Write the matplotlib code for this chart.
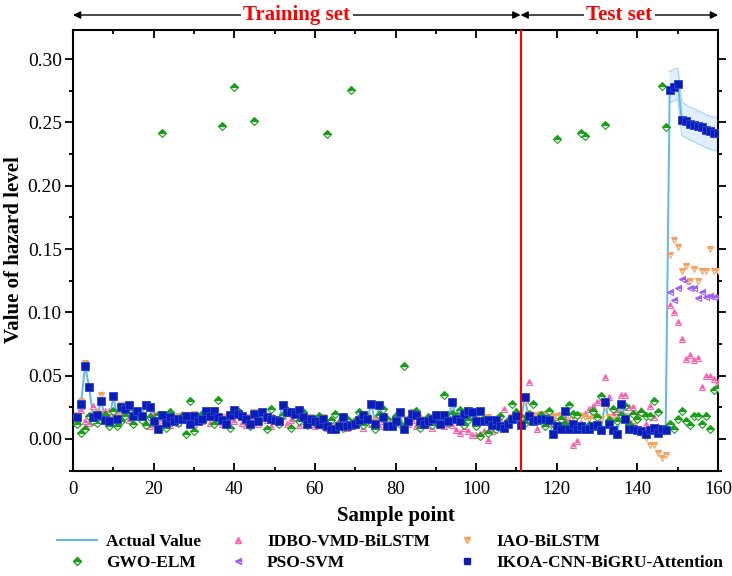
import matplotlib
matplotlib.use("Agg")
import matplotlib.pyplot as plt
import matplotlib.transforms as mtransforms
from matplotlib.ticker import MultipleLocator, FormatStrFormatter
from matplotlib.lines import Line2D

plt.rcParams['font.family'] = ['Liberation Serif', 'DejaVu Serif']

samples = list(range(1, 161))
split_at = 111

actual = [
    0.017, 0.028, 0.058, 0.041, 0.017, 0.019, 0.030, 0.015, 0.014, 0.034,
    0.016, 0.025, 0.024, 0.027, 0.018, 0.022, 0.018, 0.027, 0.025, 0.014,
    0.008, 0.019, 0.013, 0.017, 0.014, 0.016, 0.016, 0.018, 0.012, 0.018,
    0.014, 0.016, 0.022, 0.018, 0.022, 0.017, 0.015, 0.012, 0.019, 0.023,
    0.020, 0.018, 0.016, 0.012, 0.020, 0.014, 0.021, 0.017, 0.016, 0.015,
    0.014, 0.027, 0.021, 0.021, 0.020, 0.023, 0.017, 0.012, 0.016, 0.014,
    0.012, 0.016, 0.010, 0.008, 0.008, 0.010, 0.017, 0.010, 0.011, 0.012,
    0.015, 0.019, 0.016, 0.028, 0.012, 0.027, 0.017, 0.010, 0.010, 0.014,
    0.021, 0.008, 0.014, 0.020, 0.019, 0.014, 0.012, 0.014, 0.016, 0.019,
    0.012, 0.019, 0.014, 0.029, 0.016, 0.014, 0.020, 0.022, 0.021, 0.014,
    0.022, 0.014, 0.015, 0.011, 0.015, 0.010, 0.009, 0.012, 0.016, 0.018,
    0.011, 0.033, 0.018, 0.014, 0.015, 0.016, 0.016, 0.015, 0.004, 0.010,
    0.008, 0.022, 0.008, 0.012, 0.008, 0.010, 0.008, 0.008, 0.010, 0.011,
    0.007, 0.029, 0.012, 0.007, 0.004, 0.028, 0.016, 0.008, 0.008, 0.007,
    0.006, 0.004, 0.007, 0.009, 0.005, 0.008, 0.007, 0.277, 0.279, 0.281,
    0.252, 0.251, 0.249, 0.248, 0.247, 0.246, 0.244, 0.243, 0.242, 0.242,
]

gwo_elm = [
    0.012, 0.005, 0.008, 0.018, 0.014, 0.013, 0.015, 0.019, 0.010, 0.022,
    0.010, 0.014, 0.018, 0.023, 0.012, 0.020, 0.015, 0.011, 0.017, 0.013,
    0.019, 0.242, 0.009, 0.021, 0.016, 0.013, 0.018, 0.004, 0.030, 0.006,
    0.015, 0.020, 0.017, 0.021, 0.012, 0.031, 0.247, 0.013, 0.009, 0.278,
    0.022, 0.018, 0.014, 0.010, 0.251, 0.016, 0.019, 0.008, 0.024, 0.015,
    0.012, 0.019, 0.023, 0.009, 0.017, 0.014, 0.021, 0.011, 0.016, 0.013,
    0.018, 0.010, 0.241, 0.015, 0.020, 0.012, 0.009, 0.016, 0.276, 0.014,
    0.021, 0.011, 0.017, 0.013, 0.008, 0.019, 0.024, 0.016, 0.010, 0.018,
    0.012, 0.058, 0.015, 0.018, 0.022, 0.009, 0.014, 0.017, 0.011, 0.019,
    0.016, 0.035, 0.013, 0.020, 0.018, 0.023, 0.011, 0.015, 0.019, 0.010,
    0.002, 0.016, 0.005, 0.012, 0.008, 0.018, 0.011, 0.014, 0.028, 0.021,
    0.017, 0.013, 0.020, 0.028, 0.015, 0.019, 0.010, 0.022, 0.013, 0.237,
    0.016, 0.012, 0.027, 0.020, 0.019, 0.242, 0.239, 0.011, 0.022, 0.017,
    0.034, 0.248, 0.015, 0.024, 0.014, 0.019, 0.026, 0.012, 0.020, 0.016,
    0.021, 0.018, 0.018, 0.030, 0.021, 0.279, 0.246, 0.012, 0.008, 0.016,
    0.022, 0.014, 0.011, 0.018, 0.018, 0.012, 0.018, 0.008, 0.039, 0.040,
]

idbo_vmd_bilstm = [
    0.013, 0.023, 0.014, 0.013, 0.026, 0.020, 0.020, 0.022, 0.022, 0.018,
    0.020, 0.017, 0.021, 0.015, 0.019, 0.020, 0.016, 0.013, 0.010, 0.020,
    0.012, 0.015, 0.018, 0.011, 0.016, 0.013, 0.020, 0.015, 0.017, 0.012,
    0.016, 0.014, 0.019, 0.013, 0.017, 0.015, 0.012, 0.018, 0.016, 0.014,
    0.019, 0.013, 0.011, 0.016, 0.014, 0.012, 0.017, 0.015, 0.010, 0.016,
    0.013, 0.018, 0.012, 0.015, 0.017, 0.011, 0.014, 0.016, 0.012, 0.010,
    0.011, 0.014, 0.009, 0.012, 0.010, 0.015, 0.013, 0.009, 0.012, 0.011,
    0.013, 0.009, 0.018, 0.012, 0.016, 0.010, 0.014, 0.011, 0.015, 0.019,
    0.013, 0.010, 0.012, 0.015, 0.010, 0.018, 0.013, 0.011, 0.009, 0.014,
    0.012, 0.010, 0.016, 0.011, 0.007, 0.005, 0.009, 0.006, 0.003, 0.003,
    0.004, 0.006, -0.001, 0.006, 0.010, 0.016, 0.024, 0.012, 0.018, 0.020,
    0.016, 0.018, 0.045, 0.015, 0.008, 0.020, 0.018, 0.013, 0.012, 0.017,
    0.010, 0.016, 0.014, -0.005, -0.002, 0.013, 0.020, 0.024, 0.026, 0.029,
    0.031, 0.049, 0.033, 0.020, 0.022, 0.035, 0.035, 0.025, 0.025, 0.020,
    0.023, 0.012, 0.026, 0.017, 0.010, 0.008, 0.006, 0.106, 0.100, 0.092,
    0.079, 0.063, 0.066, 0.062, 0.064, 0.041, 0.050, 0.050, 0.047, 0.045,
]

pso_svm = [
    0.016, 0.026, 0.056, 0.040, 0.016, 0.018, 0.029, 0.015, 0.014, 0.033,
    0.016, 0.024, 0.023, 0.026, 0.018, 0.021, 0.018, 0.026, 0.024, 0.014,
    0.009, 0.018, 0.013, 0.017, 0.014, 0.016, 0.015, 0.017, 0.012, 0.017,
    0.014, 0.016, 0.021, 0.017, 0.021, 0.016, 0.015, 0.012, 0.018, 0.022,
    0.019, 0.017, 0.016, 0.012, 0.019, 0.014, 0.020, 0.017, 0.016, 0.015,
    0.014, 0.026, 0.020, 0.020, 0.019, 0.022, 0.017, 0.012, 0.016, 0.014,
    0.012, 0.016, 0.010, 0.009, 0.009, 0.010, 0.016, 0.010, 0.011, 0.012,
    0.015, 0.018, 0.016, 0.027, 0.012, 0.026, 0.017, 0.010, 0.010, 0.014,
    0.020, 0.009, 0.014, 0.019, 0.018, 0.014, 0.012, 0.014, 0.016, 0.018,
    0.012, 0.018, 0.014, 0.028, 0.016, 0.014, 0.019, 0.021, 0.020, 0.014,
    0.021, 0.014, 0.015, 0.011, 0.015, 0.010, 0.009, 0.012, 0.016, 0.017,
    0.011, 0.031, 0.017, 0.014, 0.015, 0.016, 0.016, 0.015, 0.005, 0.010,
    0.008, 0.021, 0.009, 0.012, 0.008, 0.010, 0.009, 0.008, 0.010, 0.011,
    0.008, 0.027, 0.012, 0.008, 0.005, 0.026, 0.016, 0.008, 0.008, 0.007,
    0.006, 0.005, 0.007, 0.009, 0.006, 0.008, 0.007, 0.116, 0.110, 0.119,
    0.126, 0.125, 0.119, 0.119, 0.111, 0.116, 0.112, 0.113, 0.112, 0.112,
]

iao_bilstm = [
    0.019, 0.030, 0.060, 0.041, 0.019, 0.021, 0.035, 0.017, 0.016, 0.032,
    0.018, 0.027, 0.025, 0.028, 0.020, 0.023, 0.019, 0.028, 0.025, 0.016,
    0.010, 0.020, 0.015, 0.018, 0.016, 0.018, 0.017, 0.019, 0.014, 0.020,
    0.016, 0.018, 0.023, 0.019, 0.023, 0.018, 0.017, 0.014, 0.020, 0.024,
    0.021, 0.019, 0.017, 0.014, 0.021, 0.016, 0.022, 0.018, 0.017, 0.016,
    0.016, 0.027, 0.022, 0.022, 0.021, 0.024, 0.018, 0.014, 0.017, 0.016,
    0.014, 0.017, 0.012, 0.010, 0.010, 0.012, 0.018, 0.012, 0.013, 0.014,
    0.016, 0.020, 0.018, 0.028, 0.014, 0.027, 0.018, 0.012, 0.012, 0.016,
    0.021, 0.010, 0.016, 0.021, 0.020, 0.016, 0.014, 0.016, 0.017, 0.020,
    0.014, 0.020, 0.016, 0.029, 0.018, 0.016, 0.021, 0.023, 0.022, 0.016,
    0.022, 0.016, 0.017, 0.013, 0.016, 0.012, 0.011, 0.014, 0.017, 0.019,
    0.013, 0.030, 0.020, 0.018, 0.019, 0.020, 0.020, 0.019, 0.018, 0.018,
    0.019, 0.021, 0.018, 0.017, 0.019, 0.018, 0.017, 0.016, 0.018, 0.017,
    0.016, 0.025, 0.017, 0.015, 0.014, 0.026, 0.018, 0.013, 0.010, 0.007,
    0.004, 0.001, -0.005, -0.005, -0.011, -0.015, -0.013, 0.145, 0.157, 0.152,
    0.133, 0.137, 0.125, 0.134, 0.125, 0.133, 0.133, 0.150, 0.133, 0.133,
]

ikoa_cnn_bigru_att = [
    0.017, 0.028, 0.058, 0.041, 0.017, 0.019, 0.030, 0.015, 0.014, 0.034,
    0.016, 0.025, 0.024, 0.027, 0.018, 0.022, 0.018, 0.027, 0.025, 0.014,
    0.008, 0.019, 0.013, 0.017, 0.014, 0.016, 0.016, 0.018, 0.012, 0.018,
    0.014, 0.016, 0.022, 0.018, 0.022, 0.017, 0.015, 0.012, 0.019, 0.023,
    0.020, 0.018, 0.016, 0.012, 0.020, 0.014, 0.021, 0.017, 0.016, 0.015,
    0.014, 0.027, 0.021, 0.021, 0.020, 0.023, 0.017, 0.012, 0.016, 0.014,
    0.012, 0.016, 0.010, 0.008, 0.008, 0.010, 0.017, 0.010, 0.011, 0.012,
    0.015, 0.019, 0.016, 0.028, 0.012, 0.027, 0.017, 0.010, 0.010, 0.014,
    0.021, 0.008, 0.014, 0.020, 0.019, 0.014, 0.012, 0.014, 0.016, 0.019,
    0.012, 0.019, 0.014, 0.029, 0.016, 0.014, 0.020, 0.022, 0.021, 0.014,
    0.022, 0.014, 0.015, 0.011, 0.015, 0.010, 0.009, 0.012, 0.016, 0.018,
    0.011, 0.033, 0.018, 0.014, 0.015, 0.016, 0.016, 0.015, 0.004, 0.010,
    0.008, 0.022, 0.008, 0.012, 0.008, 0.010, 0.008, 0.008, 0.010, 0.011,
    0.007, 0.029, 0.012, 0.007, 0.004, 0.028, 0.016, 0.008, 0.008, 0.007,
    0.006, 0.004, 0.007, 0.009, 0.005, 0.008, 0.007, 0.276, 0.278, 0.280,
    0.252, 0.251, 0.249, 0.248, 0.247, 0.246, 0.244, 0.243, 0.242, 0.242,
]

# confidence band of the proposed model on the last test points
band_x = [148, 149, 150, 151, 152, 153, 154, 155, 156, 157, 158, 159, 160]
band_upper = [0.290, 0.292, 0.293, 0.266, 0.264, 0.262, 0.261, 0.259,
              0.258, 0.256, 0.255, 0.254, 0.254]
band_lower = [0.266, 0.267, 0.269, 0.240, 0.238, 0.236, 0.235, 0.233,
              0.232, 0.230, 0.229, 0.228, 0.228]

c_line = '#5cb8f0'
c_gwo = '#17a017'
c_idbo = '#ff5fb0'
c_pso = '#a45cf5'
c_iao = '#f7a160'
c_ikoa = '#0a1db8'

fig = plt.figure(figsize=(7.32, 5.76), dpi=100)
ax = fig.add_axes([0.0997, 0.1823, 0.8813, 0.7656])

ax.fill_between(band_x, band_lower, band_upper, color='#e1effc', zorder=1)
ax.plot(band_x, band_upper, color='#a8d4f5', lw=0.8, zorder=1)
ax.plot(band_x, band_lower, color='#a8d4f5', lw=0.8, zorder=1)

ax.plot(samples, actual, color=c_line, lw=1.4, zorder=2)

half = dict(ls='none', fillstyle='top', markerfacecoloralt='white')
ax.plot(samples, idbo_vmd_bilstm, marker='^', ms=5, color=c_idbo, mec=c_idbo,
        mew=0.8, zorder=3, **half)
ax.plot(samples, pso_svm, marker='<', ms=5, color=c_pso, mec=c_pso,
        mew=0.8, zorder=3, **half)
ax.plot(samples, iao_bilstm, marker='v', ms=5, color=c_iao, mec=c_iao,
        mew=0.8, zorder=3, **half)
ax.plot(samples, gwo_elm, marker='D', ms=4.2, color=c_gwo, mec=c_gwo,
        mew=0.8, zorder=4, **half)
ax.plot(samples, ikoa_cnn_bigru_att, ls='none', marker='s', ms=5.5,
        color=c_ikoa, mec='#2a45d0', mew=0.6, zorder=5)

ax.axvline(split_at, color='red', lw=1.5, zorder=6)

ax.set_xlim(0, 160)
ax.set_ylim(-0.0253, 0.323)
ax.xaxis.set_major_locator(MultipleLocator(20))
ax.xaxis.set_minor_locator(MultipleLocator(10))
ax.yaxis.set_major_locator(MultipleLocator(0.05))
ax.yaxis.set_minor_locator(MultipleLocator(0.025))
ax.yaxis.set_major_formatter(FormatStrFormatter('%.2f'))

ax.tick_params(axis='x', which='both', direction='in', top=True, bottom=True,
               labelsize=13.5, width=1.3, pad=7)
ax.tick_params(axis='x', which='major', length=6)
ax.tick_params(axis='x', which='minor', length=3)
ax.tick_params(axis='y', which='both', direction='out', left=True, right=True,
               labelsize=14, width=1.3, pad=2)
ax.tick_params(axis='y', which='major', length=6)
ax.tick_params(axis='y', which='minor', length=3)
for sp in ax.spines.values():
    sp.set_linewidth(1.5)

ax.set_xlabel('Sample point', fontsize=15, fontweight='bold', labelpad=6)
fig.text(14 / 732, 0.566, 'Value of hazard level', rotation=90, ha='center',
         va='center', fontsize=15, fontweight='bold')

# training / test arrows above the plot
trans = mtransforms.blended_transform_factory(ax.transData, ax.transAxes)
y_arr = 1.034
for x0, x1, label in [(0, split_at, 'Training set'), (split_at, 160, 'Test set')]:
    ax.annotate('', xy=(x0, y_arr), xytext=(x1, y_arr), xycoords=trans,
                textcoords=trans, annotation_clip=False,
                arrowprops=dict(arrowstyle='<|-|>', color='black', lw=1,
                                shrinkA=0, shrinkB=0, mutation_scale=11))
    ax.text((x0 + x1) / 2, y_arr, label, transform=trans, ha='center',
            va='center', color='red', fontsize=15, fontweight='bold',
            bbox=dict(facecolor='white', edgecolor='none', pad=2))

handles = [
    Line2D([], [], color=c_line, lw=1.4),
    Line2D([], [], marker='D', ms=4.2, color=c_gwo, mec=c_gwo, **half),
    Line2D([], [], marker='^', ms=5, color=c_idbo, mec=c_idbo, **half),
    Line2D([], [], marker='<', ms=5, color=c_pso, mec=c_pso, **half),
    Line2D([], [], marker='v', ms=5, color=c_iao, mec=c_iao, **half),
    Line2D([], [], ls='none', marker='s', ms=5, color=c_ikoa),
]
labels = ['Actual Value', 'GWO-ELM', 'IDBO-VMD-BiLSTM', 'PSO-SVM',
          'IAO-BiLSTM', 'IKOA-CNN-BiGRU-Attention']
fig.legend(handles, labels, ncol=3, loc='center', bbox_to_anchor=(0.533, 0.0405),
           frameon=False, prop=dict(size=12.5, weight='bold'), handlelength=2.3,
           columnspacing=1.0, labelspacing=0.3, handletextpad=0.5)

fig.savefig('out.png', dpi=100)
